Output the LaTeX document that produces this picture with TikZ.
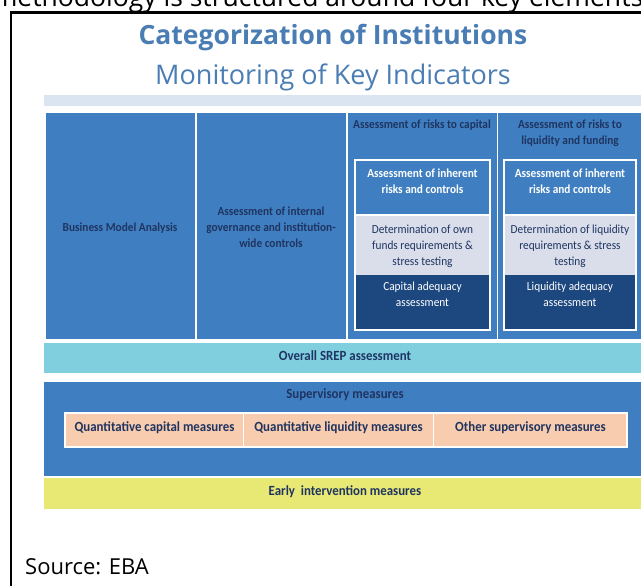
\documentclass[tikz,border=0pt]{standalone}
\usepackage{fontspec}
\setmainfont{Carlito}
\newfontfamily\osans{Open Sans}
\newfontfamily\carlc{Carlito}[FakeStretch=0.92]
\definecolor{mainblue}{HTML}{3F7FC1}
\definecolor{stripc}{HTML}{DBE5F1}
\definecolor{grayb}{HTML}{D9DEEA}
\definecolor{navyb}{HTML}{1C477F}
\definecolor{cyanb}{HTML}{80CFDF}
\definecolor{peach}{HTML}{F8CCAE}
\definecolor{yel}{HTML}{E8E874}
\definecolor{txt}{HTML}{1F3461}
\definecolor{titleblue}{HTML}{4A7DB3}
\tikzset{
  blk/.style={draw=white, line width=1.4pt},
  lbl/.style={font=\carlc\bfseries\fontsize{12.3}{16}\selectfont, text=txt, align=center, inner sep=0pt},
  lblr/.style={font=\carlc\fontsize{12.3}{16}\selectfont, align=center, inner sep=0pt},
  big/.style={font=\carlc\bfseries\fontsize{14}{16}\selectfont, text=txt, align=center, inner sep=0pt},
}
\begin{document}
\begin{tikzpicture}[x=1pt,y=-1pt]
\useasboundingbox (0,0) rectangle (641,586);
\clip (0,0) rectangle (641,586);
% top cut text
\node[font=\osans\fontsize{26.5}{30}\selectfont, anchor=base, inner sep=0pt] (toptext) at (318,6.5) {methodology is structured around four key elements};
% frame
\draw[line width=2.4pt] (11,700) -- (11,12.5) -- (700,12.5);
% titles
\node[font=\osans\bfseries\fontsize{26.5}{30}\selectfont, text=titleblue, anchor=base] (title) at (333,45) {Categorization of Institutions};
\node[font=\osans\fontsize{27}{30}\selectfont, text=titleblue, anchor=base] (subtitle) at (333,85) {Monitoring of Key Indicators};
% strip
\fill[stripc] (44,95) rectangle (650,106);
% columns
\path[blk, fill=mainblue] (45,112) rectangle (196,340);
\path[blk, fill=mainblue] (196,112) rectangle (347,340);
\path[blk, fill=mainblue] (347,112) rectangle (497.5,340);
\path[blk, fill=mainblue] (497.5,112) rectangle (660,340);
\node[lbl] (bma) at (120,228) {Business Model Analysis};
\node[lbl] (gov) at (271,227) {Assessment of internal\\governance and institution-\\wide controls};
\node[lbl] (hcap) at (422,125.5) {Assessment of risks to capital};
\node[lbl] (hliq) at (570,133.5) {Assessment of risks to\\liquidity and funding};
% inner capital
\fill[mainblue] (355,160) rectangle (490,215);
\fill[grayb] (355,215) rectangle (490,275);
\fill[navyb] (355,275) rectangle (490,330);
\draw[white, line width=1.4pt] (355,160) rectangle (490,330);
\draw[white, line width=1.2pt] (355,215) -- (490,215);
\node[lbl, text=white] (inhc) at (422.5,181) {Assessment of inherent\\risks and controls};
\node[lblr, text=txt] (detc) at (422.5,246) {Determination of own\\funds requirements \&\\stress testing};
\node[lblr, text=white] (adqc) at (422.5,294.5) {Capital adequacy\\assessment};
% inner liquidity
\fill[mainblue] (504,160) rectangle (636,215);
\fill[grayb] (504,215) rectangle (636,275);
\fill[navyb] (504,275) rectangle (636,330);
\draw[white, line width=1.4pt] (504,160) rectangle (636,330);
\draw[white, line width=1.2pt] (504,215) -- (636,215);
\node[lbl, text=white] (inhl) at (570,181) {Assessment of inherent\\risks and controls};
\node[lblr, text=txt] (detl) at (570,246) {Determination of liquidity\\requirements \& stress\\testing};
\node[lblr, text=white] (adql) at (570,294.5) {Liquidity adequacy\\assessment};
% SREP
\fill[cyanb] (44,343) rectangle (650,373);
\node[big] (srep) at (345,356) {Overall SREP assessment};
% supervisory
\fill[mainblue] (44,381.5) rectangle (650,476);
\node[big] (sup) at (345,395) {Supervisory measures};
\path[blk, fill=peach] (65,413) rectangle (243.5,447);
\path[blk, fill=peach] (243.5,413) rectangle (433.5,447);
\path[blk, fill=peach] (433.5,413) rectangle (627,447);
\node[big] (qcap) at (154.5,428) {Quantitative capital measures};
\node[big] (qliq) at (338.5,428) {Quantitative liquidity measures};
\node[big] (oth) at (530.5,428) {Other supervisory measures};
% early
\fill[yel] (44,478) rectangle (650,509);
\node[big] (early) at (345,492) {Early\ \ intervention measures};
% source
\node[font=\osans\fontsize{22}{26}\selectfont, anchor=base west, inner sep=0pt] (src) at (25,574) {Source: EBA};
\end{tikzpicture}
\end{document}
